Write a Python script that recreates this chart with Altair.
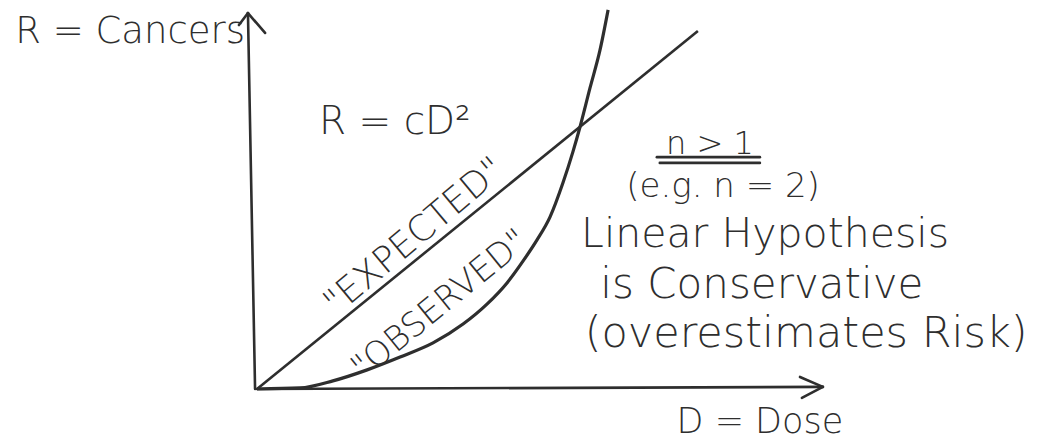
import altair as alt
import pandas as pd

# ---- data (D = dose, R = cancers), units: crossing point = (1, 1) ----
curve_dose = [0.0, 0.133, 0.235, 0.341, 0.443, 0.545, 0.638, 0.712, 0.774,
              0.824, 0.867, 0.907, 0.947, 0.978, 1.0, 1.031, 1.062, 1.087]
curve_risk = [0.0, 0.004, 0.031, 0.073, 0.122, 0.176, 0.248, 0.324, 0.405,
              0.489, 0.569, 0.656, 0.786, 0.905, 1.0, 1.149, 1.294, 1.447]

linear_dose = [0.0, 1.365]
linear_risk = [0.0, 1.366]

# hand-drawn axes with arrow heads and the double underline (id, dose, risk)
axis_seg = ["yaxis", "yaxis", "ybarbL", "ybarbL", "ybarbR", "ybarbR",
            "xaxis", "xaxis", "xbarbU", "xbarbU", "xbarbD", "xbarbD",
            "ul1", "ul1", "ul2", "ul2"]
axis_dose = [-0.006, -0.028, -0.056, -0.028, 0.025, -0.028,
             0.0, 1.752, 1.681, 1.752, 1.687, 1.752,
             1.238, 1.557, 1.247, 1.557]
axis_risk = [0.0, 1.435, 1.389, 1.435, 1.359, 1.435,
             0.0, 0.008, 0.046, 0.008, -0.034, 0.008,
             0.885, 0.885, 0.863, 0.863]
axis_order = list(range(len(axis_seg)))

# annotations (anchored at their baseline)
labels = ["R = Cancers", "R = cD²", "n > 1", "(e.g. n = 2)",
          "Linear Hypothesis", "is Conservative", "(overestimates Risk)",
          "D = Dose"]
label_dose = [-0.037, 0.427, 1.402, 1.443, 1.573, 1.563, 1.700, 1.557]
label_risk = [1.321, 0.973, 0.897, 0.732, 0.542, 0.347, 0.160, -0.168]
label_size = [37, 39, 32, 34, 41, 42, 43, 35]
label_align = ["right", "center", "center", "center", "center", "center",
               "center", "center"]

rot_labels = ['"EXPECTED"', '"OBSERVED"']
rot_dose = [0.487, 0.567]
rot_risk = [0.582, 0.321]
rot_angle = [320, 321]
rot_size = [36, 34]

INK = "#2e2e2e"
FONT = "DejaVu Sans"

xs = alt.Scale(domain=[-0.7709, 2.4613], nice=False, zero=False)
ys = alt.Scale(domain=[-0.2099, 1.4542], nice=False, zero=False)

curve_df = pd.DataFrame({"D": curve_dose, "R": curve_risk,
                         "i": range(len(curve_dose))})
lin_df = pd.DataFrame({"D": linear_dose, "R": linear_risk, "i": [0, 1]})
axis_df = pd.DataFrame({"seg": axis_seg, "D": axis_dose, "R": axis_risk,
                        "i": axis_order})

X = alt.X("D:Q", scale=xs, axis=None)
Y = alt.Y("R:Q", scale=ys, axis=None)

curve = alt.Chart(curve_df).mark_line(
    color=INK, strokeWidth=3.2, interpolate="monotone", clip=True
).encode(x=X, y=Y, order="i:Q")

linear = alt.Chart(lin_df).mark_line(color=INK, strokeWidth=2.6).encode(
    x=X, y=Y, order="i:Q")

axes = alt.Chart(axis_df).mark_line(color=INK, strokeWidth=2.6,
                                    strokeCap="round").encode(
    x=X, y=Y, detail="seg:N", order="i:Q")

text_layers = []
for t, d, r, s, a in zip(labels, label_dose, label_risk, label_size,
                         label_align):
    df = pd.DataFrame({"D": [d], "R": [r], "t": [t]})
    text_layers.append(
        alt.Chart(df).mark_text(font=FONT, fontSize=s, fontWeight=200,
                                color=INK, align=a, baseline="alphabetic")
        .encode(x=X, y=Y, text="t:N"))

for t, d, r, ang, s in zip(rot_labels, rot_dose, rot_risk, rot_angle,
                           rot_size):
    df = pd.DataFrame({"D": [d], "R": [r], "t": [t]})
    text_layers.append(
        alt.Chart(df).mark_text(font=FONT, fontSize=s, fontWeight=200,
                                color=INK, align="center", baseline="middle",
                                angle=ang)
        .encode(x=X, y=Y, text="t:N"))

chart = alt.layer(curve, linear, axes, *text_layers).properties(
    width=1044, height=436, padding=0, autosize="none",
    background="white"
).configure_view(stroke=None)

chart.save("out.html", embed_options={"renderer": "svg", "actions": False})
